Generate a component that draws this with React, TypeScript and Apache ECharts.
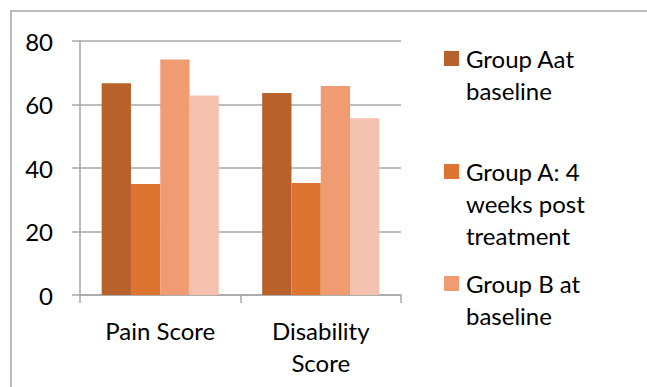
import React, { useEffect, useRef } from "react";
import * as echarts from "echarts";

const categories = ["Pain Score", "Disability\nScore"];
const seriesNames = [
  "Group Aat baseline",
  "Group A: 4 weeks post treatment",
  "Group B at baseline",
  "Group B: 4 weeks post treatment",
];
const legendLines = [
  "Group Aat\nbaseline",
  "Group A: 4\nweeks post\ntreatment",
  "Group B at\nbaseline",
];
const groupABaseline = [66.7, 63.6];
const groupAPost = [35.0, 35.3];
const groupBBaseline = [74.2, 65.8];
const groupBPost = [62.8, 55.7];
const yTicks = [0, 20, 40, 60, 80];
const colors = ["#B9612A", "#DD7430", "#F09B72", "#F5C1AF"];

const FONT = "Lato";
const FS = 24;

export default function App() {
  const ref = useRef<HTMLDivElement>(null);
  useEffect(() => {
    document.body.style.margin = "0";
    const chart = echarts.init(ref.current!, null, { renderer: "svg" });
    const values = [groupABaseline, groupAPost, groupBBaseline, groupBPost];
    const legendTops = [42, 155, 267];
    const legendMarkerTops = [51, 164, 276];
    const graphics: any[] = [
      {
        type: "rect",
        shape: { x: 11, y: 11, width: 700, height: 500 },
        style: { fill: "none", stroke: "#A6A6A6", lineWidth: 1.5 },
        silent: true,
      },
    ];
    legendLines.forEach((t, i) => {
      graphics.push({
        type: "rect",
        shape: { x: 444, y: legendMarkerTops[i], width: 15, height: 15 },
        style: { fill: colors[i] },
      });
      graphics.push({
        type: "text",
        x: 466,
        y: legendTops[i],
        style: {
          text: t,
          fontFamily: FONT,
          fontSize: FS,
          lineHeight: 32,
          fill: "#000",
          verticalAlign: "top",
          align: "left",
        },
      });
    });
    chart.setOption({
      animation: false,
      textStyle: { fontFamily: FONT },
      grid: { left: 80, right: 246, top: 41, bottom: 92, containLabel: false },
      xAxis: {
        type: "category",
        data: categories,
        axisLine: { lineStyle: { color: "#A6A6A6", width: 1.5 } },
        axisTick: { show: true, length: 8, lineStyle: { color: "#A6A6A6", width: 1.5 } },
        axisLabel: {
          color: "#000",
          fontSize: FS,
          lineHeight: 32,
          margin: 19,
          fontFamily: FONT,
        },
      },
      yAxis: {
        type: "value",
        min: yTicks[0],
        max: yTicks[yTicks.length - 1],
        interval: 20,
        axisLine: { show: true, lineStyle: { color: "#A6A6A6", width: 1.5 } },
        axisTick: { show: true, length: 8, lineStyle: { color: "#A6A6A6", width: 1.5 } },
        splitLine: { lineStyle: { color: "#A6A6A6", width: 1.5 } },
        axisLabel: { color: "#000", fontSize: FS, margin: 27, fontFamily: FONT },
      },
      legend: { show: false },
      series: values.map((v, i) => ({
        type: "bar",
        name: seriesNames[i],
        data: v,
        barGap: "0%",
        barCategoryGap: "27%",
        itemStyle: { color: colors[i] },
      })),
      graphic: graphics,
    });
    return () => chart.dispose();
  }, []);
  return <div ref={ref} style={{ width: 647, height: 387 }} />;
}
